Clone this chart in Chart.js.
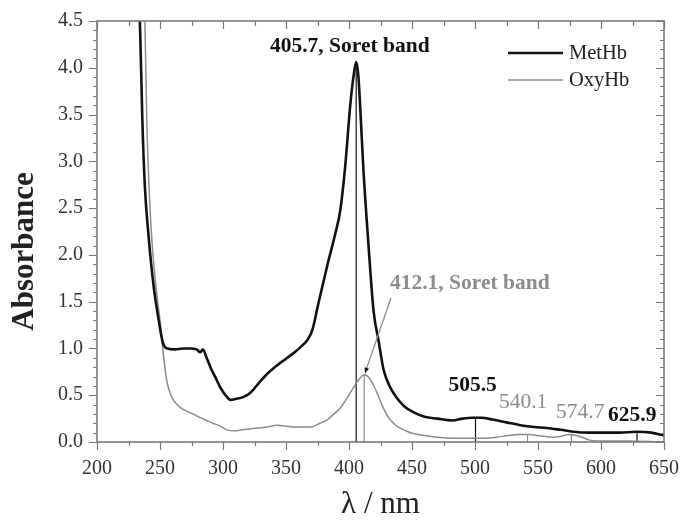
<!DOCTYPE html>
<html><head><meta charset="utf-8">
<script src="https://cdn.jsdelivr.net/npm/chart.js@4"></script>
<style>html,body{margin:0;padding:0;background:#fff}#wrap{width:681px;height:520px}</style>
</head><body><div id="wrap"><canvas id="c" width="681" height="520"></canvas></div>
<script>
// ---- data ----
const metHbWavelength = [230,234,236,238,241,245,249,252.5,256,262,268,274,279,282,284,287,290,294,298,302,306,310,316,322,329,336,343,350,356,362,367,371,376,383,389,393,397,401,403.5,405.7,407.5,409,411.5,415.5,419.5,423.5,427.5,432.5,438,444,451,460,470,482,490,498,505,514,525,536,547,557,568,578,590,602,615,628,640,650];
const metHbAbsorbance = [5.3,4.51,3.44,2.73,2.19,1.66,1.30,1.05,1.00,0.99,1.00,1.00,0.99,0.96,0.99,0.90,0.80,0.69,0.58,0.50,0.45,0.46,0.48,0.53,0.64,0.74,0.82,0.89,0.95,1.02,1.09,1.20,1.50,1.90,2.22,2.47,2.95,3.60,3.90,4.06,3.90,3.55,2.90,2.10,1.40,1.08,0.77,0.59,0.47,0.38,0.32,0.27,0.25,0.23,0.25,0.26,0.26,0.24,0.21,0.18,0.16,0.15,0.13,0.11,0.10,0.10,0.10,0.11,0.10,0.07];
const oxyHbWavelength = [233,238,239.5,241.3,243.4,246.8,250,252.6,255.3,259.3,266,271,276,282,287,292,298,303,309,315,321,328,335,343,350,357,364,370,377,383,388,393,398,403,408,412.1,415,419,423,427,432,438,445,451,460,470,483,496,507,517,527,536,543,549,556,562,568,575,580,585,591,600,620,650];
const oxyHbAbsorbance = [5.3,4.51,3.44,2.73,2.19,1.66,1.30,0.95,0.66,0.48,0.37,0.33,0.30,0.26,0.23,0.20,0.17,0.13,0.12,0.13,0.14,0.15,0.16,0.18,0.17,0.16,0.16,0.16,0.20,0.24,0.30,0.36,0.46,0.57,0.67,0.72,0.70,0.62,0.50,0.37,0.25,0.17,0.12,0.09,0.07,0.05,0.04,0.04,0.04,0.05,0.07,0.08,0.08,0.07,0.06,0.05,0.06,0.08,0.07,0.05,0.02,0.01,0.01,0.00];
const xTickValues = [200,250,300,350,400,450,500,550,600,650];
const yTickValues = [0,0.5,1.0,1.5,2.0,2.5,3.0,3.5,4.0,4.5];
const seriesNames = ['MetHb','OxyHb'];
const axisTitles = ['λ / nm','Absorbance'];
const peakLabels = ['405.7, Soret band','412.1, Soret band','505.5','540.1','574.7','625.9'];
const peakMarkerX = [405.7,412.1,500.4,541.7,576.5,628.6];
const peakMarkerY = [4.05,0.72,0.265,0.08,0.08,0.11];

// ---- styles / placement ----
const BLACK = '#111111', GREY = '#8c8c8c', AXIS = '#7a7a7a';
const SERIF = '"Liberation Serif","Times New Roman",serif';
const labelStyle = [
  {x:337.3,y:4.23,color:BLACK,bold:true},
  {x:432.5,y:1.70,color:GREY,bold:true},
  {x:478.9,y:0.60,color:BLACK,bold:true},
  {x:519.0,y:0.425,color:GREY,bold:false},
  {x:564.3,y:0.32,color:GREY,bold:false},
  {x:605.6,y:0.28,color:BLACK,bold:true}
];
const markerColor = [BLACK,GREY,BLACK,GREY,GREY,BLACK];
const pointer = {from:{x:433.3,y:1.54},to:{x:412.7,y:0.736}};

const markerSets = peakMarkerX.map((mx,i)=>({
  label:'marker'+i,
  data:[{x:mx,y:0},{x:mx,y:peakMarkerY[i]}],
  borderColor:markerColor[i], borderWidth:1.2, pointRadius:0, tension:0
}));

const framePlugin = {
  id:'frame',
  afterDraw(chart){
    const {ctx, chartArea:a, scales:{x,y}} = chart;
    ctx.save();
    ctx.strokeStyle = AXIS; ctx.lineWidth = 1.6;
    ctx.strokeRect(a.left, a.top, a.right-a.left, a.bottom-a.top);
    ctx.lineWidth = 1.2;
    ctx.beginPath();
    for(let v=200; v<=650; v+=25){
      const px = Math.round(x.getPixelForValue(v))+0.5;
      const major = v%50===0;
      ctx.moveTo(px,a.bottom); ctx.lineTo(px,a.bottom+(major?8:4));
      ctx.moveTo(px,a.top); ctx.lineTo(px,a.top+(major?8:5));
    }
    for(let k=0;k<=45;k++){
      const v=k/10;
      const py = Math.round(y.getPixelForValue(v))+0.5;
      const major = k%5===0;
      ctx.moveTo(a.left,py); ctx.lineTo(a.left-(major?8:4),py);
      ctx.moveTo(a.right,py); ctx.lineTo(a.right-(major?8:4),py);
    }
    ctx.stroke();

    // y axis title
    ctx.save();
    ctx.translate(25, (a.top+a.bottom)/2+20);
    ctx.rotate(-Math.PI/2);
    ctx.textAlign='center'; ctx.textBaseline='middle';
    ctx.fillStyle='#222'; ctx.font='bold 31px '+SERIF;
    ctx.fillText(axisTitles[1],0,0);
    ctx.restore();

    // pointer for the OxyHb Soret band label
    const fx=x.getPixelForValue(pointer.from.x), fy=y.getPixelForValue(pointer.from.y);
    const tx=x.getPixelForValue(pointer.to.x), ty=y.getPixelForValue(pointer.to.y);
    ctx.strokeStyle=GREY; ctx.lineWidth=1.3;
    ctx.beginPath(); ctx.moveTo(fx,fy); ctx.lineTo(tx,ty); ctx.stroke();
    const ang=Math.atan2(ty-fy,tx-fx);
    ctx.fillStyle=BLACK;
    ctx.beginPath();
    ctx.moveTo(tx,ty);
    ctx.lineTo(tx-6*Math.cos(ang-0.4),ty-6*Math.sin(ang-0.4));
    ctx.lineTo(tx-6*Math.cos(ang+0.4),ty-6*Math.sin(ang+0.4));
    ctx.closePath(); ctx.fill();

    // peak labels
    ctx.textAlign='left'; ctx.textBaseline='middle';
    peakLabels.forEach((t,i)=>{
      const s=labelStyle[i];
      ctx.font=(s.bold?'bold ':'')+'21.5px '+SERIF;
      ctx.fillStyle=s.color;
      ctx.fillText(t, x.getPixelForValue(s.x), y.getPixelForValue(s.y));
    });

    // legend
    const ds = chart.data.datasets;
    const lx0=508, lx1=563, rows=[53,80];
    [0,1].forEach(i=>{
      ctx.strokeStyle=ds[i].borderColor; ctx.lineWidth=ds[i].borderWidth;
      ctx.beginPath(); ctx.moveTo(lx0,rows[i]); ctx.lineTo(lx1,rows[i]); ctx.stroke();
      ctx.fillStyle='#222'; ctx.font='20.5px '+SERIF;
      ctx.fillText(ds[i].label, lx1+6, rows[i]+1);
    });
    ctx.restore();
  }
};

new Chart(document.getElementById('c'), {
  type:'line',
  data:{datasets:[
    {label:seriesNames[0], data:metHbWavelength.map((w,i)=>({x:w,y:metHbAbsorbance[i]})),
     borderColor:BLACK, borderWidth:2.6, pointRadius:0, cubicInterpolationMode:'monotone'},
    {label:seriesNames[1], data:oxyHbWavelength.map((w,i)=>({x:w,y:oxyHbAbsorbance[i]})),
     borderColor:GREY, borderWidth:1.5, pointRadius:0, cubicInterpolationMode:'monotone'},
    ...markerSets
  ]},
  options:{
    responsive:false, animation:false,
    layout:{padding:{top:21,right:17,left:0,bottom:0}},
    plugins:{legend:{display:false}, tooltip:{enabled:false}},
    scales:{
      x:{type:'linear', min:200, max:650,
        grid:{display:false, drawTicks:false}, border:{display:false},
        afterBuildTicks(s){ s.ticks = xTickValues.map(v=>({value:v})); },
        ticks:{color:'#333', padding:15, maxRotation:0, autoSkip:false, font:{family:SERIF,size:20}, callback:v=>String(v)},
        title:{display:true, text:axisTitles[0], color:'#222', padding:0, font:{family:SERIF,size:31,lineHeight:1}},
        afterFit(s){ s.height=78; s.paddingLeft=0; s.paddingRight=0; }
      },
      y:{type:'linear', min:0, max:4.5,
        grid:{display:false, drawTicks:false}, border:{display:false},
        afterBuildTicks(s){ s.ticks = yTickValues.map(v=>({value:v})); },
        ticks:{color:'#333', padding:14, autoSkip:false, font:{family:SERIF,size:20}, callback:v=>Number(v).toFixed(1)},
        title:{display:false},
        afterFit(s){ s.width=97; s.paddingTop=0; s.paddingBottom=0; }
      }
    }
  },
  plugins:[framePlugin]
});
</script></body></html>
